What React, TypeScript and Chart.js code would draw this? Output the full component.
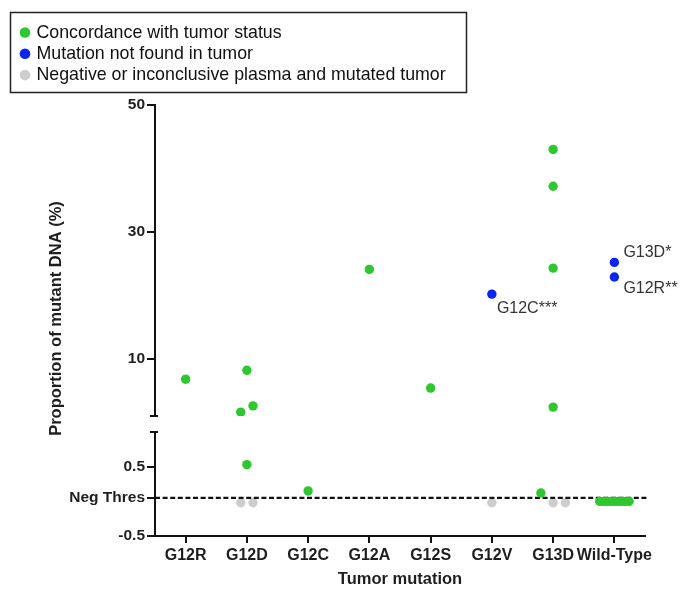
import React, { useEffect, useRef } from 'react';
import { Chart, registerables } from 'chart.js';

Chart.register(...registerables);

// ---------- data ----------
const categories = ['G12R', 'G12D', 'G12C', 'G12A', 'G12S', 'G12V', 'G13D', 'Wild-Type'];
const upperTicks = [10, 30, 50];
const lowerTicks = [-0.5, 0.05, 0.5];
const negThreshold = 0.05;
const negThresholdLabel = 'Neg Thres';

const legendLabels = [
  'Concordance with tumor status',
  'Mutation not found in tumor',
  'Negative or inconclusive plasma and mutated tumor',
];

// concordant samples on the upper (1–50 %) segment
const concordantHigh = [
  { mutation: 'G12R', value: 6.8, jitter: 0 },
  { mutation: 'G12D', value: 8.2, jitter: 0 },
  { mutation: 'G12D', value: 1.6, jitter: -0.1 },
  { mutation: 'G12D', value: 2.6, jitter: 0.1 },
  { mutation: 'G12A', value: 24.1, jitter: 0 },
  { mutation: 'G12S', value: 5.4, jitter: 0 },
  { mutation: 'G13D', value: 43.0, jitter: 0 },
  { mutation: 'G13D', value: 37.2, jitter: 0 },
  { mutation: 'G13D', value: 24.3, jitter: 0 },
  { mutation: 'G13D', value: 2.4, jitter: 0 },
];

// concordant samples on the lower (-0.5–1 %) segment
const concordantLow = [
  { mutation: 'G12D', value: 0.53, jitter: 0 },
  { mutation: 'G12C', value: 0.15, jitter: 0 },
  { mutation: 'G13D', value: 0.12, jitter: -0.2 },
  { mutation: 'Wild-Type', value: 0, jitter: -0.24 },
  { mutation: 'Wild-Type', value: 0, jitter: -0.18 },
  { mutation: 'Wild-Type', value: 0, jitter: -0.12 },
  { mutation: 'Wild-Type', value: 0, jitter: -0.06 },
  { mutation: 'Wild-Type', value: 0, jitter: 0 },
  { mutation: 'Wild-Type', value: 0, jitter: 0.06 },
  { mutation: 'Wild-Type', value: 0, jitter: 0.12 },
  { mutation: 'Wild-Type', value: 0, jitter: 0.18 },
  { mutation: 'Wild-Type', value: 0, jitter: 0.24 },
];

// mutation found in plasma but not in tumor
const notInTumor = [
  { mutation: 'G12V', value: 20.2, jitter: 0, label: 'G12C***' },
  { mutation: 'Wild-Type', value: 25.2, jitter: 0, label: 'G13D*' },
  { mutation: 'Wild-Type', value: 22.9, jitter: 0, label: 'G12R**' },
];

// negative / inconclusive plasma with mutated tumor
const negativePlasma = [
  { mutation: 'G12D', value: -0.02, jitter: -0.1 },
  { mutation: 'G12D', value: -0.02, jitter: 0.1 },
  { mutation: 'G12V', value: -0.02, jitter: 0 },
  { mutation: 'G13D', value: -0.02, jitter: 0 },
  { mutation: 'G13D', value: -0.02, jitter: 0.2 },
];

// ---------- styles ----------
const FONT = '"Liberation Sans", Arial, Helvetica, sans-serif';
const GREEN = '#2fc72f';
const BLUE = '#0a25f0';
const GRAY = '#cdcdcd';
const seriesColors = [GREEN, BLUE, GRAY];
const AXIS = '#111111';
const TEXT = '#1e1e1e';
const annotationOffsets: Record<string, [number, number]> = {
  'G12C***': [5, 14],
  'G13D*': [9, -10],
  'G12R**': [9, 12],
};

const toPoints = (arr: { mutation: string; value: number; jitter: number }[]) =>
  arr.map((d) => ({ x: categories.indexOf(d.mutation) + d.jitter, y: d.value }));

const boxLegendPlugin = {
  id: 'boxLegend',
  afterDraw(chart: any) {
    const ctx = chart.ctx;
    ctx.save();
    ctx.strokeStyle = '#222';
    ctx.lineWidth = 1.5;
    ctx.strokeRect(2.5, 4.5, 456, 80);
    ctx.font = `17.8px ${FONT}`;
    ctx.textBaseline = 'middle';
    ctx.textAlign = 'left';
    legendLabels.forEach((t, i) => {
      const y = 24.5 + i * 21.3;
      ctx.fillStyle = seriesColors[i];
      ctx.beginPath();
      ctx.arc(17, y, 5.3, 0, Math.PI * 2);
      ctx.fill();
      ctx.fillStyle = '#111';
      ctx.fillText(t, 28.5, y + 0.5);
    });
    ctx.restore();
  },
};

const decorPlugin = {
  id: 'decor',
  afterDraw(chart: any) {
    const ctx = chart.ctx;
    const { chartArea } = chart;
    const top = chart.scales.yTop;
    const bot = chart.scales.yBot;
    const x = chart.scales.x;
    ctx.save();
    // axis break caps
    ctx.strokeStyle = AXIS;
    ctx.lineWidth = 2;
    const ax = chartArea.left - 1;
    ctx.beginPath();
    ctx.moveTo(ax - 4, top.bottom);
    ctx.lineTo(ax + 4, top.bottom);
    ctx.moveTo(ax - 4, bot.top);
    ctx.lineTo(ax + 4, bot.top);
    ctx.stroke();
    // y title, centred over the whole broken axis
    ctx.translate(48, (chartArea.top + chartArea.bottom) / 2 - 2);
    ctx.rotate(-Math.PI / 2);
    ctx.font = `bold 16.5px ${FONT}`;
    ctx.fillStyle = TEXT;
    ctx.textAlign = 'center';
    ctx.textBaseline = 'middle';
    ctx.fillText('Proportion of mutant DNA (%)', 0, 0);
    ctx.setTransform(1, 0, 0, 1, 0, 0);
    // point annotations
    ctx.font = `16px ${FONT}`;
    ctx.fillStyle = '#333';
    ctx.textAlign = 'left';
    ctx.textBaseline = 'middle';
    notInTumor.forEach((d) => {
      const px = x.getPixelForValue(categories.indexOf(d.mutation) + d.jitter);
      const py = top.getPixelForValue(d.value);
      const off = annotationOffsets[d.label] || [6, 0];
      ctx.fillText(d.label, px + off[0], py + off[1]);
    });
    ctx.restore();
  },
};

const tickFont = { family: FONT, size: 15.5, weight: 'bold' as const };

function App() {
  const ref = useRef<HTMLCanvasElement>(null);

  useEffect(() => {
    if (!ref.current) return;
    const pointStyle = (color: string) => ({
      backgroundColor: color,
      borderColor: color,
      borderWidth: 0,
      pointRadius: 4.7,
      pointHoverRadius: 4.7,
    });
    const chart = new Chart(ref.current, {
      type: 'scatter',
      data: {
        datasets: [
          { label: legendLabels[0], data: toPoints(concordantHigh), yAxisID: 'yTop', ...pointStyle(GREEN) },
          { label: legendLabels[0], data: toPoints(concordantLow), yAxisID: 'yBot', ...pointStyle(GREEN) },
          { label: legendLabels[1], data: toPoints(notInTumor), yAxisID: 'yTop', ...pointStyle(BLUE) },
          {
            label: negThresholdLabel,
            data: [
              { x: -0.5, y: negThreshold },
              { x: categories.length - 0.45, y: negThreshold },
            ],
            yAxisID: 'yBot',
            showLine: true,
            borderColor: AXIS,
            borderWidth: 2.3,
            borderDash: [5, 2.6],
            pointRadius: 0,
            clip: false,
          } as any,
          { label: legendLabels[2], data: toPoints(negativePlasma), yAxisID: 'yBot', ...pointStyle(GRAY) },
        ],
      },
      options: {
        responsive: false,
        animation: false,
        events: [],
        layout: { padding: { top: 97, right: 42, left: 0, bottom: 0 } },
        plugins: {
          legend: { display: false },
          tooltip: { enabled: false },
        },
        scales: {
          x: {
            type: 'linear',
            position: 'bottom',
            min: -0.5,
            max: categories.length - 0.5,
            afterBuildTicks: (s: any) => {
              s.ticks = categories.map((_, i) => ({ value: i }));
            },
            afterFit: (s: any) => {
              s.height = 53;
            },
            ticks: {
              callback: (v: any) => categories[Math.round(Number(v))] ?? '',
              font: { family: FONT, size: 16, weight: 'bold' },
              color: TEXT,
              padding: 3,
              autoSkip: false,
              maxRotation: 0,
            },
            grid: { drawOnChartArea: false, drawTicks: true, tickLength: 7, color: AXIS, lineWidth: 2 },
            border: { color: AXIS, width: 2 },
            title: {
              display: true,
              text: 'Tumor mutation',
              color: TEXT,
              font: { family: FONT, size: 16.5, weight: 'bold', lineHeight: 1 },
              padding: { top: 0, bottom: 1 },
            },
          },
          yTop: {
            type: 'linear',
            position: 'left',
            stack: 'y',
            stackWeight: 311,
            weight: 3,
            min: 1,
            max: 50,
            afterBuildTicks: (s: any) => {
              s.ticks = upperTicks.map((v) => ({ value: v }));
            },
            afterFit: (s: any) => {
              s.width = 147;
            },
            ticks: { font: tickFont, color: TEXT, padding: 2 },
            grid: { drawOnChartArea: false, drawTicks: true, tickLength: 8, color: AXIS, lineWidth: 2 },
            border: { color: AXIS, width: 2 },
          },
          yGap: {
            type: 'linear',
            position: 'left',
            stack: 'y',
            stackWeight: 16,
            weight: 2,
            display: false,
            afterFit: (s: any) => {
              s.width = 147;
            },
          },
          yBot: {
            type: 'linear',
            position: 'left',
            stack: 'y',
            stackWeight: 104,
            weight: 1,
            min: -0.5,
            max: 1,
            afterBuildTicks: (s: any) => {
              s.ticks = lowerTicks.map((v) => ({ value: v }));
            },
            afterFit: (s: any) => {
              s.width = 147;
            },
            ticks: {
              font: tickFont,
              color: TEXT,
              padding: 2,
              callback: (v: any) => (Math.abs(Number(v) - negThreshold) < 1e-9 ? negThresholdLabel : String(v)),
            },
            grid: { drawOnChartArea: false, drawTicks: true, tickLength: 8, color: AXIS, lineWidth: 2 },
            border: { color: AXIS, width: 2 },
          },
        } as any,
      },
      plugins: [boxLegendPlugin, decorPlugin],
    });
    return () => chart.destroy();
  }, []);

  return (
    <div>
      <canvas ref={ref} width={679} height={581} style={{ display: 'block' }} />
    </div>
  );
}

export default App;
